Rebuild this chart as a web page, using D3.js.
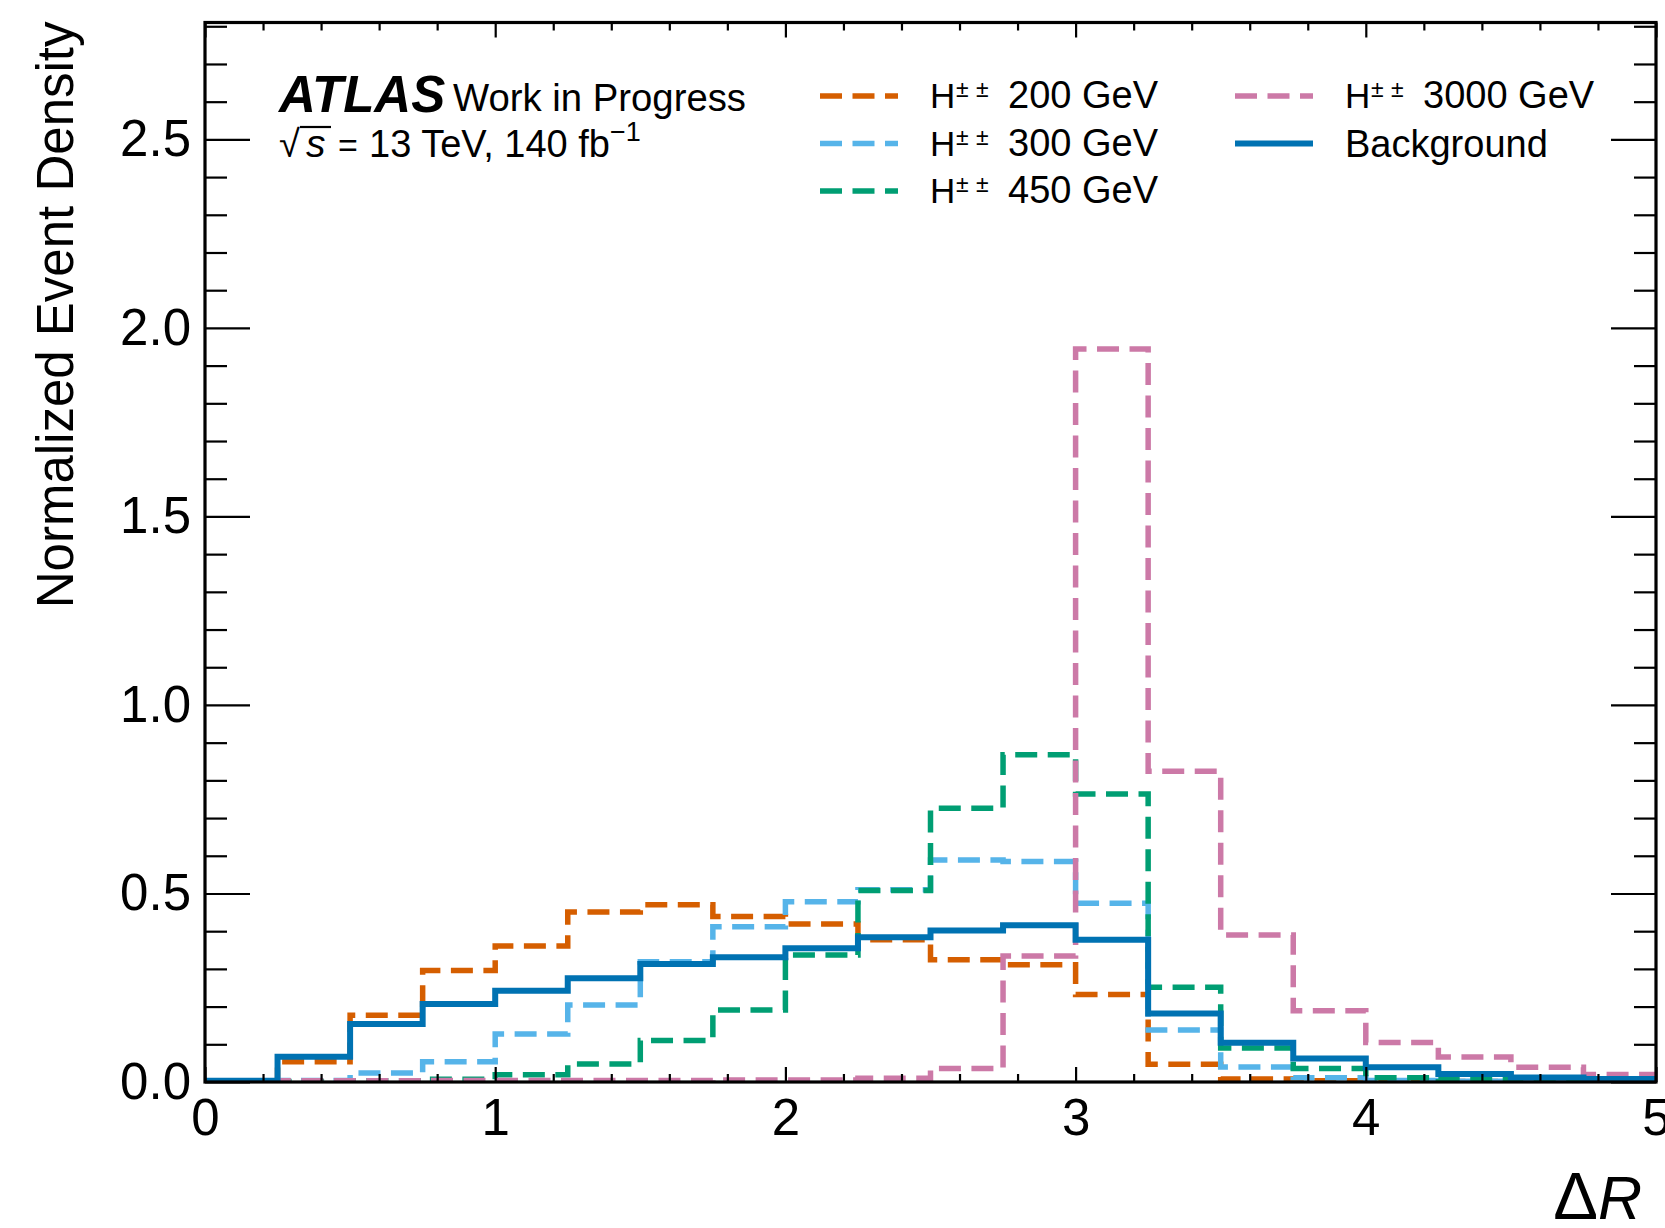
<!DOCTYPE html>
<html>
<head>
<meta charset="utf-8">
<script src="https://cdn.jsdelivr.net/npm/d3@7"></script>
<style>
  html, body { margin: 0; padding: 0; background: #fff; }
  svg { display: block; }
  text { font-family: "Liberation Sans", Arial, Helvetica, sans-serif; fill: #000; }
</style>
</head>
<body>
<svg id="chart" width="1665" height="1228"></svg>
<script>
// ---------------- data ----------------
const binEdges = [0, 0.25, 0.5, 0.75, 1.0, 1.25, 1.5, 1.75, 2.0, 2.25, 2.5,
                  2.75, 3.0, 3.25, 3.5, 3.75, 4.0, 4.25, 4.5, 4.75, 5.0];

const h200  = [0.000, 0.054, 0.177, 0.296, 0.361, 0.451, 0.470, 0.439, 0.419, 0.377,
               0.324, 0.311, 0.232, 0.047, 0.008, 0.003, 0.001, 0.001, 0.000, 0.000];
const h300  = [0.000, 0.004, 0.024, 0.054, 0.127, 0.204, 0.319, 0.412, 0.478, 0.510,
               0.589, 0.585, 0.474, 0.138, 0.040, 0.011, 0.004, 0.002, 0.001, 0.000];
const h450  = [0.000, 0.001, 0.003, 0.007, 0.019, 0.048, 0.110, 0.191, 0.337, 0.508,
               0.726, 0.868, 0.764, 0.251, 0.090, 0.036, 0.011, 0.006, 0.002, 0.001];
const h3000 = [0.000, 0.003, 0.003, 0.004, 0.004, 0.004, 0.004, 0.005, 0.005, 0.010,
               0.036, 0.334, 1.944, 0.824, 0.390, 0.189, 0.105, 0.066, 0.039, 0.020];
const background = [0.003, 0.067, 0.154, 0.207, 0.242, 0.275, 0.313, 0.331, 0.355, 0.384,
                    0.402, 0.416, 0.377, 0.182, 0.104, 0.062, 0.039, 0.021, 0.012, 0.008];

const seriesNames  = ["H±± 200 GeV", "H±± 300 GeV", "H±± 450 GeV", "H±± 3000 GeV", "Background"];
const seriesMasses = ["200 GeV", "300 GeV", "450 GeV", "3000 GeV", null];
const seriesColors = ["#D55E00", "#56B4E9", "#009E73", "#CC79A7", "#0072B2"];
const seriesDashed = [true, true, true, true, false];
const seriesValues = [h200, h300, h450, h3000, background];

const xMajorTicks = [0, 1, 2, 3, 4, 5];
const xMinorTicks = [0.2,0.4,0.6,0.8,1.2,1.4,1.6,1.8,2.2,2.4,2.6,2.8,3.2,3.4,3.6,3.8,4.2,4.4,4.6,4.8];
const yMajorTicks = [0.0, 0.5, 1.0, 1.5, 2.0, 2.5];
const yMinorTicks = [0.1,0.2,0.3,0.4,0.6,0.7,0.8,0.9,1.1,1.2,1.3,1.4,1.6,1.7,1.8,1.9,2.1,2.2,2.3,2.4,2.6,2.7,2.8];
const xDomain = [0, 5];
const yDomain = [0, 2.81];

// ---------------- layout ----------------
const L = 205, R = 1656, T = 22.5, B = 1082;
const svg = d3.select("#chart");
const x = d3.scaleLinear().domain(xDomain).range([L, R]);
const y = d3.scaleLinear().domain(yDomain).range([B, T]);

svg.append("defs").append("clipPath").attr("id", "clip")
  .append("rect").attr("x", L).attr("y", T).attr("width", R - L).attr("height", B - T);

// histograms
const line = d3.line().x(d => x(d[0])).y(d => y(d[1])).curve(d3.curveStepAfter);
seriesValues.forEach((vals, i) => {
  const pts = [[binEdges[0], 0]];
  vals.forEach((v, k) => pts.push([binEdges[k], v]));
  pts.push([binEdges[binEdges.length - 1], vals[vals.length - 1]]);
  pts.push([binEdges[binEdges.length - 1], 0]);
  svg.append("path")
    .attr("clip-path", "url(#clip)")
    .attr("d", line(pts))
    .attr("fill", "none")
    .attr("stroke", seriesColors[i])
    .attr("stroke-width", seriesDashed[i] ? 5.5 : 6)
    .attr("stroke-dasharray", seriesDashed[i] ? "22,10.5" : null)
    .attr("stroke-linejoin", "miter");
});

// axes (ticks inward on all sides)
const axBottom = d3.axisBottom(x).tickValues(xMajorTicks).tickSize(-15).tickFormat(d3.format("d")).tickPadding(17);
const axBottomMinor = d3.axisBottom(x).tickValues(xMinorTicks).tickSize(-8).tickFormat("");
const axTop = d3.axisTop(x).tickValues(xMajorTicks).tickSize(-15).tickFormat("");
const axTopMinor = d3.axisTop(x).tickValues(xMinorTicks).tickSize(-8).tickFormat("");
const axLeft = d3.axisLeft(y).tickValues(yMajorTicks).tickSize(-45).tickFormat(d3.format(".1f")).tickPadding(14);
const axLeftMinor = d3.axisLeft(y).tickValues(yMinorTicks).tickSize(-22).tickFormat("");
const axRight = d3.axisRight(y).tickValues(yMajorTicks).tickSize(-45).tickFormat("");
const axRightMinor = d3.axisRight(y).tickValues(yMinorTicks).tickSize(-22).tickFormat("");

function styleAxis(g) {
  g.select(".domain").remove();
  g.selectAll(".tick line").attr("stroke", "#000").attr("stroke-width", 2.2);
  g.selectAll("text").attr("font-size", 51).attr("fill", "#000")
    .style("font-family", '"Liberation Sans", Arial, sans-serif');
}
svg.append("g").attr("transform", `translate(0,${B})`).call(axBottom).call(styleAxis);
svg.append("g").attr("transform", `translate(0,${B})`).call(axBottomMinor).call(styleAxis);
svg.append("g").attr("transform", `translate(0,${T})`).call(axTop).call(styleAxis);
svg.append("g").attr("transform", `translate(0,${T})`).call(axTopMinor).call(styleAxis);
svg.append("g").attr("transform", `translate(${L},0)`).call(axLeft).call(styleAxis);
svg.append("g").attr("transform", `translate(${L},0)`).call(axLeftMinor).call(styleAxis);
svg.append("g").attr("transform", `translate(${R},0)`).call(axRight).call(styleAxis);
svg.append("g").attr("transform", `translate(${R},0)`).call(axRightMinor).call(styleAxis);

// frame
svg.append("rect").attr("x", L).attr("y", T).attr("width", R - L).attr("height", B - T)
  .attr("fill", "none").attr("stroke", "#000").attr("stroke-width", 3.2);

// axis labels
svg.append("text")
  .attr("transform", `translate(73,${T - 1}) rotate(-90)`)
  .attr("text-anchor", "end").attr("font-size", 51)
  .text("Normalized Event Density");
const xl = svg.append("text").attr("x", 1642).attr("y", 1219).attr("text-anchor", "end").attr("font-size", 61);
xl.append("tspan").attr("font-size", 67).text("Δ");
xl.append("tspan").attr("font-style", "italic").text("R");

// ATLAS label
svg.append("text").attr("x", 279).attr("y", 112)
  .attr("font-size", 51).attr("font-weight", "bold").attr("font-style", "italic").text("ATLAS");
svg.append("text").attr("x", 453).attr("y", 111).attr("font-size", 38.3).text("Work in Progress");
svg.append("text").attr("x", 279).attr("y", 157).attr("font-size", 38).text("√");
svg.append("line").attr("x1", 300).attr("x2", 331).attr("y1", 127).attr("y2", 127)
  .attr("stroke", "#000").attr("stroke-width", 2.2);
svg.append("text").attr("x", 306).attr("y", 157).attr("font-size", 39).attr("font-style", "italic").text("s");
svg.append("text").attr("x", 338).attr("y", 157).attr("font-size", 34).text("=");
const l2 = svg.append("text").attr("x", 369).attr("y", 157).attr("font-size", 38);
l2.append("tspan").text("13 TeV, 140 fb");
l2.append("tspan").attr("dy", -16).attr("font-size", 27).text("−1");

// legend
const legendX = [820, 820, 820, 1235, 1235];
const legendY = [96, 143.5, 191, 96, 143.5];
const handleLen = 78;
const textOff = 110;
seriesNames.forEach((name, i) => {
  const lx = legendX[i], ly = legendY[i];
  svg.append("line").attr("x1", lx).attr("x2", lx + handleLen).attr("y1", ly).attr("y2", ly)
    .attr("stroke", seriesColors[i])
    .attr("stroke-width", seriesDashed[i] ? 5.5 : 6)
    .attr("stroke-dasharray", seriesDashed[i] ? "22,10.5" : null);
  const tx = lx + textOff;
  if (seriesMasses[i]) {
    svg.append("text").attr("x", tx).attr("y", ly + 12).attr("font-size", 35).text("H");
    svg.append("text").attr("x", tx + 26).attr("y", ly + 1).attr("font-size", 23).text("±");
    svg.append("text").attr("x", tx + 46).attr("y", ly + 1).attr("font-size", 23).text("±");
    svg.append("text").attr("x", tx + 78).attr("y", ly + 12).attr("font-size", 38).text(seriesMasses[i]);
  } else {
    svg.append("text").attr("x", tx).attr("y", ly + 13).attr("font-size", 38).text(name);
  }
});
</script>
</body>
</html>
